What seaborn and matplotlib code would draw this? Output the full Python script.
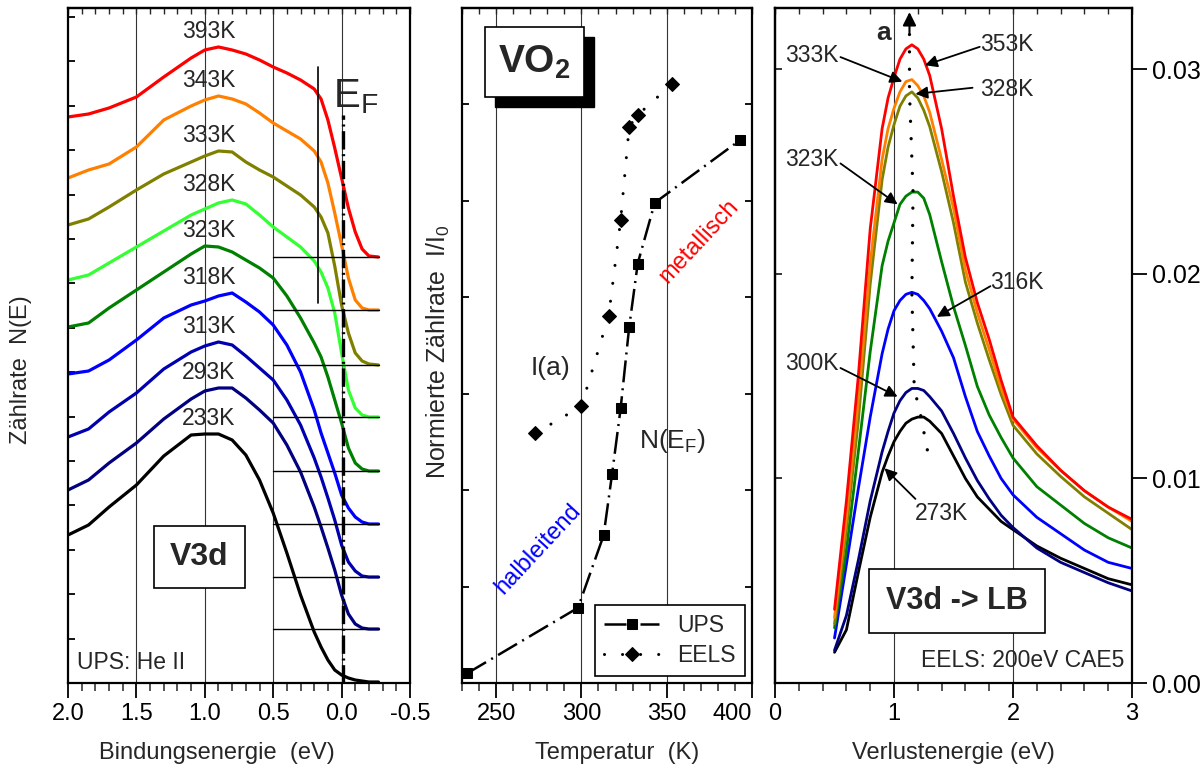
import matplotlib
matplotlib.use("Agg")
import matplotlib.pyplot as plt
from matplotlib.patches import Rectangle
from matplotlib.ticker import MultipleLocator, FormatStrFormatter
import pandas as pd
import seaborn as sns

# ---------------- data ----------------
# left: UPS He II spectra of the V3d band, offset stack (arb. units)
ups_energy = [2.0, 1.85, 1.7, 1.5, 1.3, 1.1, 1.0, 0.9, 0.8, 0.7, 0.6, 0.5,
              0.4, 0.3, 0.2, 0.15, 0.1, 0.05, 0.0, -0.05, -0.1, -0.15, -0.2, -0.27]
ups_temps = ["393K", "343K", "333K", "328K", "323K", "318K", "313K", "293K", "233K"]
ups_393 = [5.66, 5.69, 5.75, 5.86, 6.06, 6.25, 6.33, 6.36, 6.33, 6.29, 6.23, 6.16,
           6.10, 6.03, 5.94, 5.84, 5.63, 5.35, 5.05, 4.75, 4.51, 4.34, 4.27, 4.26]
ups_343 = [5.05, 5.13, 5.19, 5.36, 5.63, 5.77, 5.83, 5.87, 5.84, 5.79, 5.70, 5.60,
           5.52, 5.44, 5.32, 5.21, 5.00, 4.70, 4.38, 4.05, 3.83, 3.75, 3.73, 3.73]
ups_333 = [4.58, 4.64, 4.76, 4.93, 5.09, 5.21, 5.27, 5.32, 5.31, 5.21, 5.13, 5.06,
           4.97, 4.88, 4.76, 4.66, 4.50, 4.17, 3.78, 3.50, 3.30, 3.22, 3.19, 3.18]
ups_328 = [4.03, 4.08, 4.20, 4.36, 4.52, 4.68, 4.74, 4.80, 4.83, 4.79, 4.68, 4.56,
           4.46, 4.36, 4.22, 4.11, 3.95, 3.70, 3.30, 2.93, 2.75, 2.68, 2.66, 2.66]
ups_323 = [3.56, 3.60, 3.75, 3.93, 4.11, 4.29, 4.37, 4.36, 4.31, 4.23, 4.15, 4.05,
           3.87, 3.65, 3.40, 3.26, 3.06, 2.83, 2.60, 2.35, 2.20, 2.14, 2.12, 2.12]
ups_318 = [3.09, 3.12, 3.23, 3.43, 3.65, 3.78, 3.82, 3.87, 3.90, 3.81, 3.71, 3.58,
           3.38, 3.11, 2.73, 2.50, 2.30, 2.10, 1.88, 1.75, 1.66, 1.61, 1.59, 1.59]
ups_313 = [2.46, 2.54, 2.71, 2.90, 3.14, 3.31, 3.37, 3.41, 3.38, 3.27, 3.15, 3.03,
           2.83, 2.58, 2.25, 2.06, 1.85, 1.63, 1.38, 1.21, 1.12, 1.07, 1.06, 1.06]
ups_293 = [1.93, 2.03, 2.20, 2.40, 2.64, 2.84, 2.92, 2.95, 2.95, 2.85, 2.73, 2.60,
           2.38, 2.11, 1.76, 1.56, 1.35, 1.13, 0.88, 0.69, 0.59, 0.55, 0.54, 0.54]
ups_233 = [1.48, 1.58, 1.76, 1.98, 2.27, 2.48, 2.49, 2.49, 2.43, 2.28, 2.03, 1.70,
           1.30, 0.88, 0.51, 0.36, 0.23, 0.13, 0.08, 0.05, 0.03, 0.02, 0.01, 0.01]
ups_series = [ups_393, ups_343, ups_333, ups_328, ups_323, ups_318, ups_313, ups_293, ups_233]
ups_colors = ["#ff0000", "#ff8000", "#808000", "#33ff33", "#008000",
              "#0000ff", "#0000b0", "#000080", "#000000"]

# middle: normalised intensities vs temperature
nef_temp = [233, 298, 313, 318, 323, 328, 333, 343, 393]
nef_value = [0.10, 0.78, 1.53, 2.17, 2.85, 3.69, 4.35, 4.98, 5.63]
ia_temp = [273, 300, 316, 323, 328, 333, 353]
ia_value = [2.59, 2.87, 3.81, 4.80, 5.77, 5.89, 6.21]

# right: EELS loss spectra
eels_loss = [0.5, 0.6, 0.7, 0.8, 0.9, 0.95, 1.0, 1.05, 1.1, 1.15, 1.2, 1.25, 1.3,
             1.4, 1.5, 1.6, 1.7, 1.8, 1.9, 2.0, 2.2, 2.4, 2.6, 2.8, 3.0]
eels_temps = ["273K", "300K", "316K", "323K", "328K", "333K", "353K"]
eels_273 = [0.0015, 0.0026, 0.0054, 0.0081, 0.0103, 0.0111, 0.0118, 0.0123, 0.0127, 0.0129, 0.0130, 0.0130, 0.0128,
            0.0122, 0.0111, 0.0100, 0.0091, 0.0085, 0.0079, 0.0075, 0.0067, 0.0061, 0.0056, 0.0051, 0.0048]
eels_300 = [0.0016, 0.0033, 0.0060, 0.0089, 0.0113, 0.0123, 0.0132, 0.0138, 0.0142, 0.0144, 0.0144, 0.0143, 0.0140,
            0.0133, 0.0122, 0.0110, 0.0099, 0.0090, 0.0082, 0.0076, 0.0066, 0.0059, 0.0054, 0.0049, 0.0045]
eels_316 = [0.0022, 0.0058, 0.0095, 0.0130, 0.0161, 0.0173, 0.0182, 0.0187, 0.0190, 0.0191, 0.0190, 0.0187, 0.0183,
            0.0172, 0.0159, 0.0140, 0.0123, 0.0111, 0.0100, 0.0092, 0.0081, 0.0073, 0.0065, 0.0059, 0.0056]
eels_323 = [0.0027, 0.0065, 0.0113, 0.0162, 0.0204, 0.0216, 0.0225, 0.0234, 0.0238, 0.0240, 0.0240, 0.0237, 0.0229,
            0.0206, 0.0184, 0.0165, 0.0145, 0.0131, 0.0120, 0.0110, 0.0096, 0.0087, 0.0078, 0.0071, 0.0066]
eels_328 = [0.0029, 0.0075, 0.0128, 0.0195, 0.0246, 0.0262, 0.0273, 0.0282, 0.0287, 0.0289, 0.0286, 0.0280, 0.0272,
            0.0250, 0.0225, 0.0196, 0.0176, 0.0158, 0.0141, 0.0126, 0.0112, 0.0101, 0.0091, 0.0083, 0.0075]
eels_333 = [0.0032, 0.0081, 0.0138, 0.0205, 0.0256, 0.0271, 0.0281, 0.0289, 0.0294, 0.0295, 0.0292, 0.0287, 0.0279,
            0.0256, 0.0232, 0.0202, 0.0181, 0.0163, 0.0144, 0.0129, 0.0115, 0.0104, 0.0094, 0.0086, 0.0079]
eels_353 = [0.0036, 0.0089, 0.0150, 0.0222, 0.0271, 0.0286, 0.0296, 0.0305, 0.0310, 0.0312, 0.0310, 0.0305, 0.0297,
            0.0271, 0.0238, 0.0208, 0.0186, 0.0168, 0.0148, 0.0130, 0.0116, 0.0104, 0.0094, 0.0086, 0.0080]
eels_series = [eels_273, eels_300, eels_316, eels_323, eels_328, eels_333, eels_353]
eels_colors = ["#000000", "#000080", "#0000ff", "#008000", "#808000", "#ff8000", "#ff0000"]

# trace of the peak "a"
a_loss = [1.28, 1.22, 1.17, 1.15, 1.16, 1.13, 1.13, 1.13]
a_value = [0.0114, 0.0132, 0.0144, 0.0191, 0.0240, 0.0289, 0.0311, 0.0320]

# labels on the EELS curves: text position, arrow start, arrow tip
eels_notes = [
    ("353K", (1.95, 0.0312), (1.72, 0.0311), (1.26, 0.0302)),
    ("333K", (0.31, 0.0307), (0.55, 0.0306), (1.07, 0.0294)),
    ("328K", (1.95, 0.0290), (1.66, 0.0291), (1.18, 0.0288)),
    ("323K", (0.31, 0.0256), (0.55, 0.0254), (1.03, 0.0234)),
    ("316K", (2.03, 0.0196), (1.81, 0.0194), (1.36, 0.0179)),
    ("300K", (0.31, 0.0156), (0.55, 0.0154), (1.03, 0.0140)),
    ("273K", (1.40, 0.0083), (1.18, 0.0090), (0.92, 0.0105)),
]

# ---------------- style ----------------
sns.set_theme(style="ticks")
plt.rcParams["font.family"] = ["Liberation Sans", "DejaVu Sans"]
plt.rcParams["mathtext.fontset"] = "custom"
plt.rcParams["mathtext.rm"] = "Liberation Sans"
plt.rcParams["mathtext.bf"] = "Liberation Sans:bold"
plt.rcParams["axes.linewidth"] = 1.6
plt.rcParams["axes.edgecolor"] = "black"

TICK_FS = 17
LABEL_FS = 17
NOTE_FS = 16.5

fig = plt.figure(figsize=(12.04, 7.75), dpi=100)
bottom, height = 0.1187, 0.871
ax1 = fig.add_axes([0.0565, bottom, 0.284, height])
ax2 = fig.add_axes([0.3837, bottom, 0.2409, height])
ax3 = fig.add_axes([0.6437, bottom, 0.2965, height])

for ax in (ax1, ax2, ax3):
    ax.tick_params(axis="both", colors="black", labelsize=TICK_FS, width=1.3)
    ax.tick_params(axis="x", which="major", direction="out", length=11, bottom=True, top=False)
    ax.tick_params(axis="x", which="minor", direction="out", length=6, width=1.1, bottom=True, top=False)
    ax.set_facecolor("white")

# ---------------- left panel ----------------
ups_df = pd.concat([pd.DataFrame({"E": ups_energy, "N": vals, "T": t})
                    for t, vals in zip(ups_temps, ups_series)])
for xg in (1.5, 1.0, 0.5, 0.0):
    ax1.axvline(xg, color="#333333", lw=0.8, zorder=0)
sns.lineplot(data=ups_df, x="E", y="N", hue="T", hue_order=ups_temps,
             palette=ups_colors, sort=False, estimator=None, legend=False,
             lw=2.3, ax=ax1)
for t, vals in zip(ups_temps, ups_series):
    ax1.text(0.97, max(vals) + 0.15, t, ha="center", va="center", fontsize=NOTE_FS)
for vals in ups_series[:-1]:
    ax1.plot([0.5, ups_energy[-1]], [vals[-1], vals[-1]], color="black", lw=1.0)
ax1.plot([0.17, 0.17], [3.80, 6.16], color="black", lw=1.2)
ef_line, = ax1.plot([-0.01, -0.01], [0.0, 5.68], color="black", lw=2.4)
ef_line.set_dashes([5.5, 1.4, 0.6, 1.4])
ax1.text(0.06, 5.76, r"E$_\mathrm{F}$", fontsize=29, ha="left", va="baseline")
ax1.text(0.3845, 0.1867, "V3d", transform=ax1.transAxes, ha="center", va="center",
         fontsize=23, fontweight="bold",
         bbox=dict(boxstyle="square,pad=0.5", fc="white", ec="black", lw=1.2))
ax1.text(0.026, 0.03, "UPS: He II", transform=ax1.transAxes, ha="left", va="center",
         fontsize=NOTE_FS)
ax1.set_xlim(2.0, -0.5)
ax1.set_ylim(0, 6.75)
ax1.xaxis.set_major_locator(MultipleLocator(0.5))
ax1.xaxis.set_minor_locator(MultipleLocator(0.1))
ax1.xaxis.set_major_formatter(FormatStrFormatter("%.1f"))
ax1.yaxis.set_major_locator(MultipleLocator(0.444))
ax1.tick_params(axis="y", direction="in", length=5, left=True, right=False, labelleft=False)
ax1.set_xlabel("Bindungsenergie  (eV)", fontsize=LABEL_FS)
ax1.xaxis.set_label_coords(0.436, -0.088)
ax1.set_ylabel("Zählrate  N(E)", fontsize=LABEL_FS)
ax1.yaxis.set_label_coords(-0.105, 0.464)

# ---------------- middle panel ----------------
for xg in (250, 300, 350):
    ax2.axvline(xg, color="#333333", lw=0.8, zorder=0)
sns.lineplot(x=nef_temp, y=nef_value, ax=ax2, color="black", lw=1.8,
             marker="s", markersize=7, markeredgecolor="black", label="UPS")
ups_line = ax2.lines[-1]
ups_line.set_dashes([8.8, 2.4, 0.8, 2.4])
sns.lineplot(x=ia_temp, y=ia_value, ax=ax2, color="black", lw=2.2,
             marker="D", markersize=7, markeredgecolor="black", label="EELS")
eels_line = ax2.lines[-1]
eels_line.set_dashes([0.01, 5.9])
eels_line.set_dash_capstyle("round")
ax2.legend(handles=[ups_line, eels_line], labels=["UPS", "EELS"], loc="lower right",
           fontsize=NOTE_FS, frameon=True, fancybox=False, edgecolor="black",
           framealpha=1, handlelength=2.4, borderaxespad=0.3, labelspacing=0.3)
ax2.get_legend().get_frame().set_linewidth(1.2)

shadow = Rectangle((0.1138, 0.853), 0.3414, 0.1038, transform=ax2.transAxes,
                   fc="black", ec="black", zorder=5)
box = Rectangle((0.0793, 0.868), 0.3414, 0.1038, transform=ax2.transAxes,
                fc="white", ec="black", lw=1.2, zorder=6)
ax2.add_patch(shadow)
ax2.add_patch(box)
ax2.text(0.25, 0.92, r"VO$_\mathbf{2}$", transform=ax2.transAxes, ha="center", va="center",
         fontsize=28, fontweight="bold", zorder=7)
ax2.text(282, 3.27, "I(a)", ha="center", va="center", fontsize=19)
ax2.text(353.5, 2.51, r"N(E$_\mathrm{F}$)", ha="center", va="center", fontsize=19)
ax2.text(369, 4.58, "metallisch", color="red", rotation=47, ha="center", va="center",
         fontsize=17)
ax2.text(274.7, 1.39, "halbleitend", color="blue", rotation=47, ha="center", va="center",
         fontsize=17)
ax2.set_xlim(230, 400)
ax2.set_ylim(0, 7)
ax2.set_xticks([250, 300, 350, 400])
ax2.xaxis.set_minor_locator(MultipleLocator(10))
ax2.yaxis.set_major_locator(MultipleLocator(1))
ax2.get_xticklabels()[-1].set_horizontalalignment("right")
ax2.tick_params(axis="y", direction="in", length=5, left=True, right=True, labelleft=False)
ax2.set_xlabel("Temperatur  (K)", fontsize=LABEL_FS)
ax2.xaxis.set_label_coords(0.534, -0.088)
ax2.set_ylabel(r"Normierte Zählrate  I/I$_\mathrm{0}$", fontsize=18)
ax2.yaxis.set_label_coords(-0.035, 0.49)

# ---------------- right panel ----------------
eels_df = pd.concat([pd.DataFrame({"loss": eels_loss, "I": vals, "T": t})
                     for t, vals in zip(eels_temps, eels_series)])
for xg in (1, 2):
    ax3.axvline(xg, color="#333333", lw=0.8, zorder=0)
sns.lineplot(data=eels_df, x="loss", y="I", hue="T", hue_order=eels_temps,
             palette=eels_colors, sort=False, estimator=None, legend=False,
             lw=2.0, ax=ax3)
a_line, = ax3.plot(a_loss, a_value, color="black", lw=2.4)
a_line.set_dashes([0.01, 5.2])
a_line.set_dash_capstyle("round")
ax3.annotate("", xy=(1.13, 0.0328), xytext=(1.13, 0.0318),
             arrowprops=dict(arrowstyle="-|>", color="black", lw=1.5, mutation_scale=20,
                             shrinkA=0, shrinkB=0))
ax3.text(0.91, 0.0318, "a", ha="center", va="center", fontsize=19, fontweight="bold")
for label, txt_xy, start, tip in eels_notes:
    ax3.text(txt_xy[0], txt_xy[1], label, ha="center", va="center", fontsize=NOTE_FS)
    ax3.annotate("", xy=tip, xytext=start,
                 arrowprops=dict(arrowstyle="-|>", color="black", lw=1.3,
                                 mutation_scale=18, shrinkA=0, shrinkB=0))
ax3.text(0.51, 0.1217, "V3d -> LB", transform=ax3.transAxes, ha="center", va="center",
         fontsize=22, fontweight="bold",
         bbox=dict(boxstyle="square,pad=0.55", fc="white", ec="black", lw=1.2))
ax3.text(0.98, 0.033, "EELS: 200eV CAE5", transform=ax3.transAxes, ha="right",
         va="center", fontsize=NOTE_FS)
ax3.set_xlim(0, 3)
ax3.set_ylim(0, 0.033)
ax3.xaxis.set_major_locator(MultipleLocator(1))
ax3.xaxis.set_minor_locator(MultipleLocator(0.2))
ax3.yaxis.set_major_locator(MultipleLocator(0.01))
ax3.yaxis.set_major_formatter(FormatStrFormatter("%.2f"))
ax3.yaxis.tick_right()
ax3.tick_params(axis="y", direction="out", length=11, right=True, left=False,
                labelright=True, labelleft=False, labelsize=18)
ax3.set_xlabel("Verlustenergie (eV)", fontsize=LABEL_FS)
ax3.xaxis.set_label_coords(0.5, -0.088)
ax3.set_ylabel("")
# inward ticks on the left edge of the right panel
ax3_left = ax3.secondary_yaxis("left")
ax3_left.yaxis.set_major_locator(MultipleLocator(0.01))
ax3_left.tick_params(direction="in", length=5, width=1.3, labelleft=False)

# inward minor ticks along the top edges
for ax, minor in ((ax1, 0.1), (ax2, 10), (ax3, 0.2)):
    top = ax.secondary_xaxis("top")
    top.xaxis.set_major_locator(MultipleLocator(minor))
    top.tick_params(direction="in", length=4, width=1.0, labeltop=False)

fig.savefig("out.png", dpi=100)
